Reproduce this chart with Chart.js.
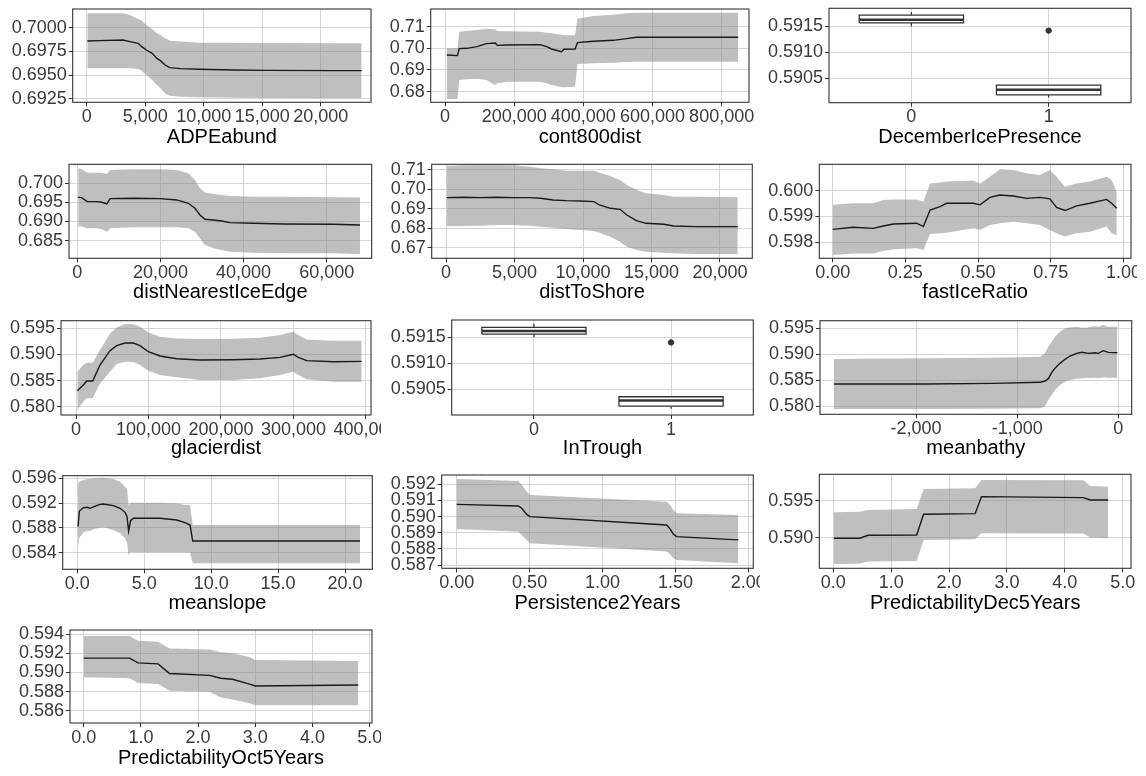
<!DOCTYPE html>
<html>
<head>
<meta charset="utf-8">
<script src="https://cdn.jsdelivr.net/npm/chart.js@4.4.0/dist/chart.umd.min.js"></script>
<style>
  html, body { margin: 0; padding: 0; background: #fff; }
  #wrap { position: relative; width: 1146px; height: 776px; overflow: hidden; }
  #wrap canvas { position: absolute; }
</style>
</head>
<body>
<div id="wrap"></div>
<script>
// --- data: x, fitted line, ribbon low / high ---

const adpeX   = [50, 1100, 3100, 3700, 4400, 4700, 5100, 5600, 6000, 6300, 6700, 7100, 8000, 9700, 12500, 15400, 21100, 23500];
const adpeFit = [0.69860, 0.69863, 0.69870, 0.69853, 0.69835, 0.69800, 0.69765, 0.69730, 0.69677, 0.69653, 0.69607, 0.69579, 0.69569, 0.69562, 0.69555, 0.69551, 0.69548, 0.69548];
const adpeHi  = [0.70151, 0.70151, 0.70151, 0.70133, 0.70091, 0.70074, 0.70028, 0.69982, 0.69940, 0.69923, 0.69888, 0.69863, 0.69853, 0.69842, 0.69842, 0.69839, 0.69835, 0.69835];
const adpeLo  = [0.69572, 0.69572, 0.69572, 0.69572, 0.69565, 0.69548, 0.69502, 0.69450, 0.69397, 0.69362, 0.69309, 0.69285, 0.69274, 0.69267, 0.69264, 0.69260, 0.69257, 0.69257];
const adpeXTicks = ['0', '5,000', '10,000', '15,000', '20,000'];
const adpeYTicks = ['0.6925', '0.6950', '0.6975', '0.7000'];

const contX   = [5000, 36000, 41000, 63000, 92000, 120000, 145000, 151000, 178000, 275000, 294000, 308000, 337000, 344000, 376000, 383000, 429000, 487000, 525000, 554000, 848000];
const contFit = [0.69692, 0.69662, 0.69985, 0.70000, 0.70077, 0.70215, 0.70246, 0.70138, 0.70154, 0.70169, 0.70077, 0.69969, 0.69846, 0.69954, 0.69969, 0.70262, 0.70323, 0.70369, 0.70446, 0.70508, 0.70508];
const contHi  = [0.70000, 0.70000, 0.70769, 0.70800, 0.70846, 0.70908, 0.70877, 0.70800, 0.70785, 0.70769, 0.70723, 0.70692, 0.70631, 0.70600, 0.70600, 0.71369, 0.71492, 0.71554, 0.71615, 0.71646, 0.71646];
const contLo  = [0.67662, 0.67662, 0.68538, 0.68569, 0.68600, 0.68538, 0.68308, 0.68385, 0.68462, 0.68462, 0.68385, 0.68308, 0.68200, 0.68200, 0.68231, 0.69277, 0.69308, 0.69338, 0.69369, 0.69385, 0.69385];
const contXTicks = ['0', '200,000', '400,000', '600,000', '800,000'];
const contYTicks = ['0.68', '0.69', '0.70', '0.71'];

// boxplots: one entry per category
const decCats  = ['0', '1'];
const decQ1    = [0.59157, 0.59018];
const decMed   = [0.59163, 0.59028];
const decQ3    = [0.59172, 0.59037];
const decWLo   = [0.59150, 0.59013];
const decWHi   = [0.59178, 0.59037];
const decOut   = [[], [0.59142]];
const decYTicks = ['0.5905', '0.5910', '0.5915'];

const edgeX   = [200, 1000, 2400, 4700, 5900, 7100, 7900, 13500, 19900, 23900, 26700, 28300, 29500, 30700, 32700, 34700, 36700, 42300, 49600, 61600, 68000];
const edgeFit = [0.69634, 0.69625, 0.69520, 0.69520, 0.69503, 0.69459, 0.69599, 0.69607, 0.69599, 0.69564, 0.69476, 0.69346, 0.69171, 0.69058, 0.69040, 0.69014, 0.68970, 0.68953, 0.68935, 0.68927, 0.68909];
const edgeHi  = [0.70393, 0.70375, 0.70279, 0.70279, 0.70279, 0.70244, 0.70349, 0.70366, 0.70366, 0.70349, 0.70262, 0.70087, 0.69869, 0.69756, 0.69721, 0.69695, 0.69668, 0.69651, 0.69651, 0.69634, 0.69625];
const edgeLo  = [0.68866, 0.68866, 0.68822, 0.68822, 0.68796, 0.68735, 0.68822, 0.68848, 0.68848, 0.68848, 0.68822, 0.68735, 0.68560, 0.68386, 0.68298, 0.68255, 0.68211, 0.68185, 0.68167, 0.68167, 0.68150];
const edgeXTicks = ['0', '20,000', '40,000', '60,000'];
const edgeYTicks = ['0.685', '0.690', '0.695', '0.700'];

const shoreX   = [50, 1300, 2500, 3700, 4900, 6100, 6900, 7800, 8800, 9800, 10800, 11200, 12000, 12700, 13200, 13900, 14600, 15900, 16600, 18300, 21300];
const shoreFit = [0.69575, 0.69592, 0.69575, 0.69592, 0.69575, 0.69575, 0.69541, 0.69455, 0.69421, 0.69403, 0.69369, 0.69197, 0.69026, 0.68974, 0.68682, 0.68391, 0.68253, 0.68202, 0.68116, 0.68082, 0.68082];
const shoreHi  = [0.71223, 0.71240, 0.71258, 0.71258, 0.71240, 0.71172, 0.71086, 0.71034, 0.70966, 0.70966, 0.70966, 0.70863, 0.70691, 0.70485, 0.70227, 0.69970, 0.69798, 0.69712, 0.69627, 0.69627, 0.69592];
const shoreLo  = [0.68116, 0.68116, 0.68133, 0.68167, 0.68167, 0.68133, 0.68082, 0.68030, 0.67961, 0.67910, 0.67858, 0.67773, 0.67567, 0.67309, 0.67052, 0.66880, 0.66794, 0.66743, 0.66708, 0.66674, 0.66674];
const shoreXTicks = ['0', '5,000', '10,000', '15,000', '20,000'];
const shoreYTicks = ['0.67', '0.68', '0.69', '0.70', '0.71'];

const fastX   = [0.00, 0.071, 0.140, 0.174, 0.209, 0.289, 0.312, 0.335, 0.369, 0.392, 0.484, 0.507, 0.541, 0.575, 0.621, 0.667, 0.713, 0.747, 0.770, 0.799, 0.839, 0.885, 0.942, 0.959, 0.977];
const fastFit = [0.59850, 0.59858, 0.59854, 0.59863, 0.59871, 0.59874, 0.59861, 0.59925, 0.59938, 0.59951, 0.59951, 0.59945, 0.59974, 0.59983, 0.59979, 0.59970, 0.59974, 0.59968, 0.59935, 0.59923, 0.59941, 0.59951, 0.59966, 0.59951, 0.59932];
const fastHi  = [0.59945, 0.59951, 0.59951, 0.59964, 0.59966, 0.59966, 0.59957, 0.60028, 0.60032, 0.60035, 0.60039, 0.60028, 0.60054, 0.60083, 0.60080, 0.60067, 0.60061, 0.60080, 0.60054, 0.60015, 0.60028, 0.60035, 0.60054, 0.60041, 0.59996];
const fastLo  = [0.59751, 0.59757, 0.59757, 0.59766, 0.59773, 0.59777, 0.59770, 0.59832, 0.59835, 0.59837, 0.59854, 0.59848, 0.59867, 0.59874, 0.59880, 0.59874, 0.59867, 0.59848, 0.59835, 0.59822, 0.59835, 0.59841, 0.59861, 0.59835, 0.59828];
const fastXTicks = ['0.00', '0.25', '0.50', '0.75', '1.00'];
const fastYTicks = ['0.598', '0.599', '0.600'];

const glacX   = [1800, 10100, 14700, 23000, 33100, 46900, 56100, 67600, 79100, 88300, 99800, 115900, 138900, 171000, 217000, 253800, 281400, 299800, 306700, 318200, 355000, 394000];
const glacFit = [0.58306, 0.58414, 0.58491, 0.58491, 0.58798, 0.59072, 0.59168, 0.59219, 0.59219, 0.59168, 0.59053, 0.58970, 0.58919, 0.58893, 0.58900, 0.58912, 0.58944, 0.59002, 0.58944, 0.58881, 0.58861, 0.58868];
const glacHi  = [0.58670, 0.58798, 0.58842, 0.58842, 0.59085, 0.59404, 0.59519, 0.59583, 0.59577, 0.59532, 0.59423, 0.59340, 0.59308, 0.59296, 0.59302, 0.59321, 0.59372, 0.59436, 0.59372, 0.59289, 0.59264, 0.59264];
const glacLo  = [0.57935, 0.58095, 0.58159, 0.58159, 0.58446, 0.58670, 0.58817, 0.58861, 0.58855, 0.58798, 0.58689, 0.58606, 0.58561, 0.58510, 0.58510, 0.58542, 0.58606, 0.58670, 0.58606, 0.58523, 0.58478, 0.58478];
const glacXTicks = ['0', '100,000', '200,000', '300,000', '400,000'];
const glacYTicks = ['0.580', '0.585', '0.590', '0.595'];

const troughCats = ['0', '1'];
const troughQ1   = [0.59156, 0.59018];
const troughMed  = [0.59162, 0.59029];
const troughQ3   = [0.59169, 0.59036];
const troughWLo  = [0.59150, 0.59013];
const troughWHi  = [0.59176, 0.59036];
const troughOut  = [[], [0.59140]];
const troughYTicks = ['0.5905', '0.5910', '0.5915'];

const bathyX   = [-2811, -1895, -1236, -774, -725, -692, -659, -626, -577, -527, -478, -412, -362, -297, -231, -198, -148, -99, -10];
const bathyFit = [0.58425, 0.58425, 0.58438, 0.58458, 0.58483, 0.58528, 0.58644, 0.58728, 0.58824, 0.58902, 0.58966, 0.59017, 0.59037, 0.59017, 0.59030, 0.59017, 0.59069, 0.59037, 0.59030];
const bathyHi  = [0.58908, 0.58921, 0.58934, 0.58953, 0.59017, 0.59146, 0.59243, 0.59339, 0.59436, 0.59500, 0.59519, 0.59532, 0.59513, 0.59519, 0.59545, 0.59532, 0.59564, 0.59532, 0.59532];
const bathyLo  = [0.57943, 0.57943, 0.57949, 0.57956, 0.58001, 0.58116, 0.58213, 0.58310, 0.58406, 0.58470, 0.58503, 0.58528, 0.58535, 0.58541, 0.58548, 0.58535, 0.58554, 0.58548, 0.58548];
const bathyXTicks = ['-2,000', '-1,000', '0'];
const bathyYTicks = ['0.580', '0.585', '0.590', '0.595'];

const slopeX   = [0.05, 0.15, 0.45, 0.75, 0.95, 1.25, 1.69, 1.94, 2.69, 3.19, 3.56, 3.71, 3.83, 3.98, 4.18, 6.18, 7.42, 8.04, 8.42, 8.62, 11.65, 21.12];
const slopeFit = [0.58819, 0.59072, 0.59126, 0.59132, 0.59116, 0.59142, 0.59180, 0.59186, 0.59159, 0.59116, 0.59051, 0.58981, 0.58749, 0.58916, 0.58954, 0.58954, 0.58927, 0.58884, 0.58846, 0.58588, 0.58588, 0.58588];
const slopeHi  = [0.59519, 0.59546, 0.59573, 0.59589, 0.59589, 0.59600, 0.59611, 0.59611, 0.59589, 0.59546, 0.59465, 0.59428, 0.59169, 0.59207, 0.59207, 0.59207, 0.59196, 0.59169, 0.59169, 0.58846, 0.58846, 0.58846];
const slopeLo  = [0.58496, 0.58642, 0.58728, 0.58749, 0.58749, 0.58782, 0.58803, 0.58809, 0.58766, 0.58712, 0.58631, 0.58566, 0.58362, 0.58405, 0.58405, 0.58405, 0.58405, 0.58405, 0.58400, 0.58227, 0.58227, 0.58227];
const slopeXTicks = ['0.0', '5.0', '10.0', '15.0', '20.0'];
const slopeYTicks = ['0.584', '0.588', '0.592', '0.596'];

const persX   = [0.0, 0.423, 0.446, 0.480, 0.503, 1.440, 1.463, 1.486, 1.509, 1.931];
const persFit = [0.59076, 0.59066, 0.59052, 0.59014, 0.59000, 0.58948, 0.58924, 0.58891, 0.58876, 0.58856];
const persHi  = [0.59233, 0.59221, 0.59196, 0.59155, 0.59134, 0.59093, 0.59072, 0.59041, 0.59021, 0.59010];
const persLo  = [0.58924, 0.58907, 0.58887, 0.58856, 0.58835, 0.58784, 0.58767, 0.58742, 0.58732, 0.58711];
const persXTicks = ['0.00', '0.50', '1.00', '1.50', '2.00'];
const persYTicks = ['0.587', '0.588', '0.589', '0.590', '0.591', '0.592'];

const decPX   = [0.01, 0.46, 0.60, 1.44, 1.56, 2.45, 2.56, 4.32, 4.44, 4.75];
const decPFit = [0.58991, 0.58991, 0.59031, 0.59036, 0.59315, 0.59324, 0.59554, 0.59541, 0.59509, 0.59509];
const decPHi  = [0.59342, 0.59351, 0.59374, 0.59387, 0.59658, 0.59667, 0.59779, 0.59775, 0.59698, 0.59689];
const decPLo  = [0.58640, 0.58649, 0.58676, 0.58685, 0.58968, 0.58977, 0.59059, 0.59054, 0.59000, 0.58991];
const decPXTicks = ['0.0', '1.0', '2.0', '3.0', '4.0', '5.0'];
const decPYTicks = ['0.590', '0.595'];

const octPX   = [0.0, 0.8, 0.95, 1.3, 1.5, 2.2, 2.4, 2.6, 2.9, 3.0, 4.8];
const octPFit = [0.5915, 0.5915, 0.5910, 0.5909, 0.5899, 0.5897, 0.5894, 0.5893, 0.5888, 0.5886, 0.5887];
const octPHi  = [0.5938, 0.5938, 0.5933, 0.5932, 0.5925, 0.5924, 0.5921, 0.5920, 0.5916, 0.5913, 0.5912];
const octPLo  = [0.5895, 0.5894, 0.5889, 0.5888, 0.5881, 0.5880, 0.5874, 0.5872, 0.5868, 0.5866, 0.5866];
const octPXTicks = ['0.0', '1.0', '2.0', '3.0', '4.0', '5.0'];
const octPYTicks = ['0.586', '0.588', '0.590', '0.592', '0.594'];

// --- panels: axis ranges and plot boxes (page pixels: left, top, right, bottom) ---
const panels = [
  { title: 'ADPEabund', x: adpeX, fit: adpeFit, lo: adpeLo, hi: adpeHi, xt: adpeXTicks, yt: adpeYTicks,
    xr: [-1197, 24302], yr: [0.69215, 0.70196], box: [72.7, 9, 371, 102.3] },
  { title: 'cont800dist', x: contX, fit: contFit, lo: contLo, hi: contHi, xt: contXTicks, yt: contYTicks,
    xr: [-41450, 879100], yr: [0.67508, 0.71815], box: [430.7, 9, 749, 102.3] },
  { title: 'DecemberIcePresence', cats: decCats, q1: decQ1, med: decMed, q3: decQ3, wlo: decWLo, whi: decWHi, out: decOut, yt: decYTicks,
    xr: [-0.6, 1.6], yr: [0.59003, 0.59185], box: [829, 8.3, 1131, 102.7] },
  { title: 'distNearestIceEdge', x: edgeX, fit: edgeFit, lo: edgeLo, hi: edgeHi, xt: edgeXTicks, yt: edgeYTicks,
    xr: [-2005, 70820], yr: [0.68037, 0.70497], box: [69, 164.3, 371.7, 258.3] },
  { title: 'distToShore', x: shoreX, fit: shoreFit, lo: shoreLo, hi: shoreHi, xt: shoreXTicks, yt: shoreYTicks,
    xr: [-1046, 22360], yr: [0.66451, 0.71292], box: [431.7, 164.3, 752.3, 258.3] },
  { title: 'fastIceRatio', x: fastX, fit: fastFit, lo: fastLo, hi: fastHi, xt: fastXTicks, yt: fastYTicks,
    xr: [-0.0459, 1.026], yr: [0.59738, 0.60102], box: [819.3, 164.3, 1131, 258.3] },
  { title: 'glacierdist', x: glacX, fit: glacFit, lo: glacLo, hi: glacHi, xt: glacXTicks, yt: glacYTicks,
    xr: [-20690, 406900], yr: [0.57840, 0.59647], box: [61, 320.7, 371, 415] },
  { title: 'InTrough', cats: troughCats, q1: troughQ1, med: troughMed, q3: troughQ3, wlo: troughWLo, whi: troughWHi, out: troughOut, yt: troughYTicks,
    xr: [-0.6, 1.6], yr: [0.59001, 0.59183], box: [451.7, 320, 753.3, 415] },
  { title: 'meanbathy', x: bathyX, fit: bathyFit, lo: bathyLo, hi: bathyHi, xt: bathyXTicks, yt: bathyYTicks,
    xr: [-2949, 132], yr: [0.57840, 0.59648], box: [820, 320.7, 1131.7, 414.3] },
  { title: 'meanslope', x: slopeX, fit: slopeFit, lo: slopeLo, hi: slopeHi, xt: slopeXTicks, yt: slopeYTicks,
    xr: [-1.096, 22.04], yr: [0.58130, 0.59643], box: [62.7, 475.7, 372.3, 569.3] },
  { title: 'Persistence2Years', x: persX, fit: persFit, lo: persLo, hi: persHi, xt: persXTicks, yt: persYTicks,
    xr: [-0.103, 2.034], yr: [0.58680, 0.59258], box: [441.7, 475, 753.3, 568.3] },
  { title: 'PredictabilityDec5Years', x: decPX, fit: decPFit, lo: decPLo, hi: decPHi, xt: decPXTicks, yt: decPYTicks,
    xr: [-0.242, 5.144], yr: [0.58585, 0.59856], box: [819.3, 474.3, 1131, 568.3] },
  { title: 'PredictabilityOct5Years', x: octPX, fit: octPFit, lo: octPLo, hi: octPHi, xt: octPXTicks, yt: octPYTicks,
    xr: [-0.24, 5.04], yr: [0.58475, 0.59442], box: [70, 630, 372, 723] }
];

// --- styles ---
const FONT = '"Liberation Sans", Arial, sans-serif';
const TICK_COL = '#3a3a3a';
const GRID_COL = '#d6d6d6';
const FRAME_COL = '#333333';
const RIBBON = 'rgba(128,128,128,0.5)';
const LINE_COL = '#1a1a1a';
const BOX_HALF = 0.38;

// cell edges: each panel is cut off at its right edge, like the ggplot grid
const COL_LEFT = [0, 382, 764];
const COL_RIGHT = [381, 760, 1137];
const ROW_TOP = [0, 155, 311, 466, 621];
const CELL_H = 155;

const num = s => Number(s.replace(/,/g, ''));
const pts = (xs, ys) => xs.map((x, i) => ({ x: x, y: ys[i] }));

// frame round the plot area, like theme_bw
const frame = {
  id: 'frame',
  afterDraw(chart) {
    const { ctx, chartArea: a } = chart;
    ctx.save();
    ctx.strokeStyle = FRAME_COL;
    ctx.lineWidth = 1.1;
    ctx.strokeRect(a.left, a.top, a.right - a.left, a.bottom - a.top);
    ctx.restore();
  }
};

function lineSets(p) {
  return [
    { data: pts(p.x, p.fit), borderColor: LINE_COL, borderWidth: 1.4, pointRadius: 0, fill: false },
    { data: pts(p.x, p.hi), borderColor: 'rgba(0,0,0,0)', pointRadius: 0, fill: '+1', backgroundColor: RIBBON },
    { data: pts(p.x, p.lo), borderColor: 'rgba(0,0,0,0)', pointRadius: 0, fill: false }
  ];
}

function boxSets(p) {
  const sets = [];
  const seg = (data, w) => ({ data: data, borderColor: FRAME_COL, borderWidth: w, pointRadius: 0, fill: false });
  p.cats.forEach((c, i) => {
    const x = num(c);
    const outs = p.out[i].map(y => ({ x: x, y: y }));
    sets.push({ data: outs, showLine: false, pointRadius: 2.7, pointBackgroundColor: FRAME_COL, pointBorderColor: FRAME_COL });
    sets.push(seg([{ x: x - BOX_HALF, y: p.med[i] }, { x: x + BOX_HALF, y: p.med[i] }], 2.5));
    sets.push({
      data: [{ x: x - BOX_HALF, y: p.q1[i] }, { x: x + BOX_HALF, y: p.q1[i] }, { x: x + BOX_HALF, y: p.q3[i] },
             { x: x - BOX_HALF, y: p.q3[i] }, { x: x - BOX_HALF, y: p.q1[i] }],
      borderColor: FRAME_COL, borderWidth: 1.3, pointRadius: 0, fill: 'shape', backgroundColor: '#ffffff'
    });
    sets.push(seg([{ x: x, y: p.q3[i] }, { x: x, y: p.whi[i] }], 1.2));
    sets.push(seg([{ x: x, y: p.q1[i] }, { x: x, y: p.wlo[i] }], 1.2));
  });
  return sets;
}

const wrap = document.getElementById('wrap');

panels.forEach((p, k) => {
  const col = k % 3, row = Math.floor(k / 3);
  const left = COL_LEFT[col], right = COL_RIGHT[col], top = ROW_TOP[row];
  const [bl, bt, br, bb] = p.box;

  const canvas = document.createElement('canvas');
  canvas.width = right - left;
  canvas.height = CELL_H;
  canvas.style.left = left + 'px';
  canvas.style.top = top + 'px';
  wrap.appendChild(canvas);

  const xLabels = p.cats || p.xt;
  const yAxisW = bl - left;
  const xAxisH = top + CELL_H - bb;

  new Chart(canvas, {
    type: 'line',
    data: { datasets: p.cats ? boxSets(p) : lineSets(p) },
    options: {
      responsive: false,
      animation: false,
      events: [],
      elements: { line: { tension: 0 } },
      layout: { padding: { left: 0, top: bt - top, right: right - br, bottom: 0 } },
      plugins: { legend: { display: false }, tooltip: { enabled: false } },
      scales: {
        x: {
          type: 'linear', bounds: 'data', min: p.xr[0], max: p.xr[1],
          afterBuildTicks: ax => { ax.ticks = xLabels.map(s => ({ value: num(s) })); },
          afterFit: ax => { ax.height = xAxisH; ax.paddingLeft = 0; ax.paddingRight = 0; },
          ticks: {
            autoSkip: false, maxRotation: 0, minRotation: 0, padding: 0,
            color: TICK_COL, font: { family: FONT, size: 18 },
            callback: (v, i) => xLabels[i]
          },
          grid: { color: GRID_COL, lineWidth: 1, tickColor: FRAME_COL, tickLength: 4 },
          border: { display: false },
          title: { display: true, text: p.title, color: '#000', font: { family: FONT, size: 20 }, padding: { top: 0, bottom: 6 } }
        },
        y: {
          type: 'linear', bounds: 'data', min: p.yr[0], max: p.yr[1],
          afterBuildTicks: ax => { ax.ticks = p.yt.map(s => ({ value: num(s) })); },
          afterFit: ax => { ax.width = yAxisW; ax.paddingTop = 0; ax.paddingBottom = 0; },
          ticks: {
            autoSkip: false, padding: 2,
            color: TICK_COL, font: { family: FONT, size: 18 },
            callback: (v, i) => p.yt[i]
          },
          grid: { color: GRID_COL, lineWidth: 1, tickColor: FRAME_COL, tickLength: 4 },
          border: { display: false }
        }
      }
    },
    plugins: [frame]
  });
});
</script>
</body>
</html>
